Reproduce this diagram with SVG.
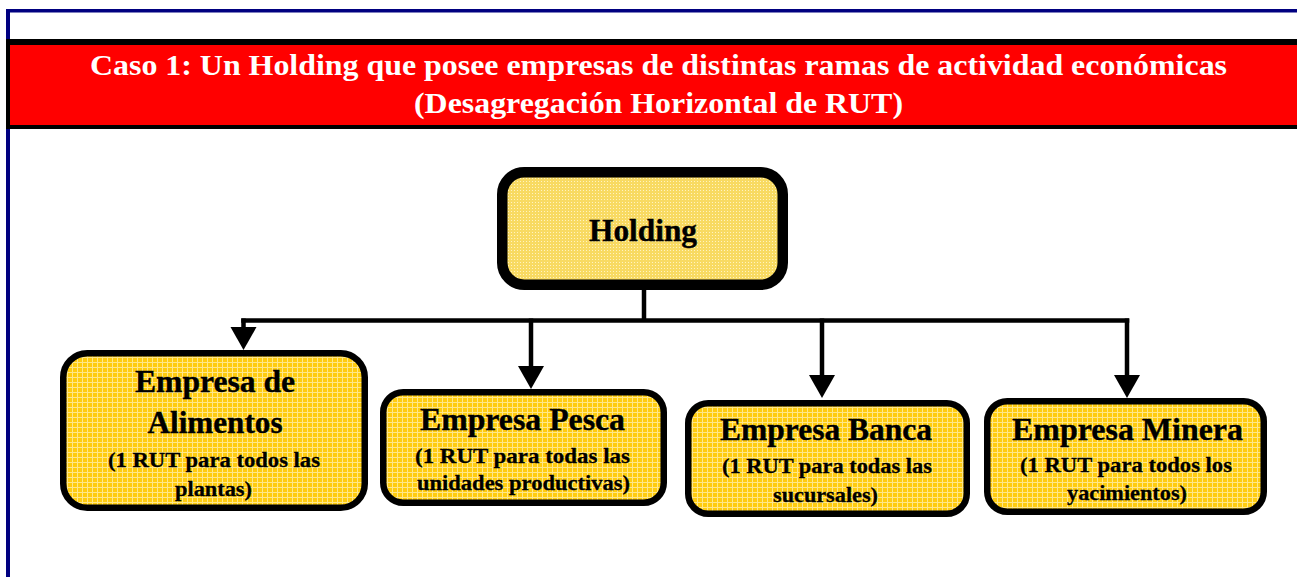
<svg xmlns="http://www.w3.org/2000/svg" width="1297" height="577" viewBox="0 0 1297 577">
<style>
.title{font-family:"Liberation Serif","Times New Roman",serif;font-weight:bold;fill:#ffffff;font-size:30px;text-anchor:middle}
.main{font-family:"Liberation Serif","Times New Roman",serif;font-weight:bold;fill:#000000;stroke:#000000;stroke-width:0.4;font-size:32px;text-anchor:middle}
.sub{font-family:"Liberation Serif","Times New Roman",serif;font-weight:bold;fill:#000000;stroke:#000000;stroke-width:0.3;font-size:22px;text-anchor:middle}
.box{fill:url(#compPat);stroke:#000000;stroke-width:6.5}
.hold{fill:url(#holdPat);stroke:#000000;stroke-width:10.5}
.conn{fill:none;stroke:#000000;stroke-width:4.5}
</style>
<defs>
<pattern id="compPat" width="5" height="5" patternUnits="userSpaceOnUse">
<rect width="5" height="5" fill="#FFCC10"/>
<rect x="0" y="2" width="5" height="1" fill="#FFE78A"/>
<rect x="2" y="0" width="1" height="5" fill="#FFE78A"/>
</pattern>
<pattern id="holdPat" width="3" height="3" patternUnits="userSpaceOnUse">
<rect width="3" height="3" fill="#F8DA62"/>
<rect x="1" y="1" width="1" height="1" fill="#FFF3C0"/>
</pattern>
<marker id="arr" markerUnits="userSpaceOnUse" markerWidth="24" markerHeight="27" refX="16" refY="13" orient="auto" viewBox="0 0 24 27">
<path d="M0,0 L23,13 L0,26 Z" fill="#000000"/>
</marker>
</defs>
<rect width="1297" height="577" fill="#ffffff"/>
<g id="frame">
<rect x="6" y="9" width="1291" height="3.5" fill="#000080"/>
<rect x="6" y="9" width="4" height="568" fill="#000080"/>
</g>
<g id="header">
<rect x="6" y="39" width="1291" height="90" fill="#000000"/>
<rect x="10" y="45" width="1287" height="80" fill="#FF0000"/>
<text class="title" x="658.5" y="75" textLength="1137" lengthAdjust="spacingAndGlyphs">Caso 1: Un Holding que posee empresas de distintas ramas de actividad económicas</text>
<text class="title" x="658.5" y="113" textLength="489" lengthAdjust="spacingAndGlyphs">(Desagregación Horizontal de RUT)</text>
</g>
<g id="connectors">
<path class="conn" d="M644,290 V320.5"/>
<path class="conn" d="M241.25,320.5 H1129.25"/>
<path class="conn" d="M243.5,318.5 V343" marker-end="url(#arr)"/>
<path class="conn" d="M531,318.5 V382" marker-end="url(#arr)"/>
<path class="conn" d="M822,318.5 V391" marker-end="url(#arr)"/>
<path class="conn" d="M1127,318.5 V391" marker-end="url(#arr)"/>
</g>
<g id="holding">
<rect class="hold" x="502.25" y="172.25" width="280.5" height="112.5" rx="22"/>
<text class="main" x="643" y="241" textLength="108" lengthAdjust="spacingAndGlyphs">Holding</text>
</g>
<g id="alimentos">
<rect class="box" x="63.25" y="353.25" width="301.5" height="154.5" rx="24"/>
<text class="main" x="215" y="392" textLength="160" lengthAdjust="spacingAndGlyphs">Empresa de</text>
<text class="main" x="215" y="433" textLength="135" lengthAdjust="spacingAndGlyphs">Alimentos</text>
<text class="sub" x="214" y="467" textLength="212" lengthAdjust="spacingAndGlyphs">(1 RUT para todos las</text>
<text class="sub" x="213.5" y="496" textLength="77" lengthAdjust="spacingAndGlyphs">plantas)</text>
</g>
<g id="pesca">
<rect class="box" x="383.25" y="392.25" width="280.5" height="110.5" rx="20"/>
<text class="main" x="522.5" y="430" textLength="205" lengthAdjust="spacingAndGlyphs">Empresa Pesca</text>
<text class="sub" x="522.5" y="463" textLength="215" lengthAdjust="spacingAndGlyphs">(1 RUT para todas las</text>
<text class="sub" x="523.5" y="490" textLength="213" lengthAdjust="spacingAndGlyphs">unidades productivas)</text>
</g>
<g id="banca">
<rect class="box" x="688.25" y="403.25" width="278.5" height="110.5" rx="20"/>
<text class="main" x="826" y="440" textLength="212" lengthAdjust="spacingAndGlyphs">Empresa Banca</text>
<text class="sub" x="827" y="473" textLength="210" lengthAdjust="spacingAndGlyphs">(1 RUT para todas las</text>
<text class="sub" x="825.5" y="502" textLength="105" lengthAdjust="spacingAndGlyphs">sucursales)</text>
</g>
<g id="minera">
<rect class="box" x="987.25" y="401.25" width="276.5" height="110.5" rx="20"/>
<text class="main" x="1127.5" y="440" textLength="231" lengthAdjust="spacingAndGlyphs">Empresa Minera</text>
<text class="sub" x="1126" y="472" textLength="212" lengthAdjust="spacingAndGlyphs">(1 RUT para todos los</text>
<text class="sub" x="1127" y="500" textLength="120" lengthAdjust="spacingAndGlyphs">yacimientos)</text>
</g>
</svg>
